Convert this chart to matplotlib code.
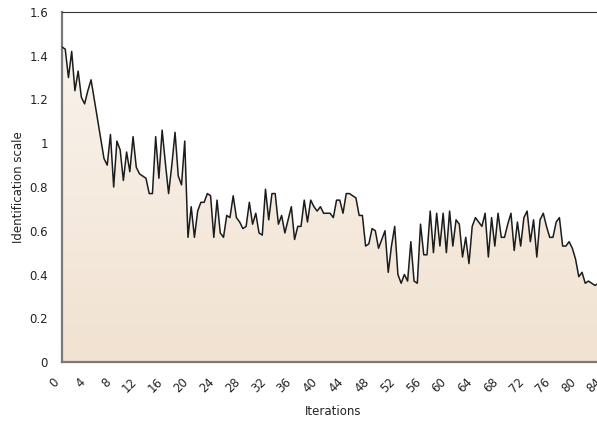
import numpy as np
import matplotlib
matplotlib.use('Agg')
import matplotlib.pyplot as plt
import matplotlib.transforms as mtransforms
from matplotlib.colors import LinearSegmentedColormap

# valores (passo de 0.5 iteracao)
scale_vals = [
    1.44, 1.43, 1.30, 1.42, 1.24, 1.33, 1.21, 1.18, 1.24, 1.29,
    1.20, 1.11, 1.02, 0.93, 0.90, 1.04, 0.80, 1.01, 0.97, 0.83,
    0.96, 0.87, 1.03, 0.89, 0.86, 0.85, 0.84, 0.77, 0.77, 1.03,
    0.84, 1.06, 0.91, 0.77, 0.90, 1.05, 0.85, 0.81, 1.01, 0.57,
    0.71, 0.57, 0.69, 0.73, 0.73, 0.77, 0.76, 0.57, 0.74, 0.59,
    0.57, 0.67, 0.66, 0.76, 0.66, 0.64, 0.61, 0.62, 0.73, 0.63,
    0.68, 0.59, 0.58, 0.79, 0.65, 0.77, 0.77, 0.63, 0.67, 0.59,
    0.65, 0.71, 0.56, 0.62, 0.62, 0.74, 0.64, 0.74, 0.71, 0.69,
    0.71, 0.68, 0.68, 0.68, 0.66, 0.74, 0.74, 0.68, 0.77, 0.77,
    0.76, 0.75, 0.67, 0.67, 0.53, 0.54, 0.61, 0.60, 0.52, 0.56,
    0.60, 0.41, 0.53, 0.62, 0.40, 0.36, 0.40, 0.37, 0.55, 0.37,
    0.36, 0.63, 0.49, 0.49, 0.69, 0.50, 0.68, 0.53, 0.68, 0.50,
    0.69, 0.53, 0.65, 0.63, 0.48, 0.57, 0.45, 0.62, 0.66, 0.64,
    0.62, 0.68, 0.48, 0.66, 0.53, 0.68, 0.57, 0.57, 0.63, 0.68,
    0.51, 0.64, 0.53, 0.66, 0.69, 0.55, 0.65, 0.48, 0.65, 0.68,
    0.62, 0.57, 0.57, 0.64, 0.66, 0.53, 0.53, 0.55, 0.52, 0.47,
    0.39, 0.41, 0.36, 0.37, 0.36, 0.35, 0.36,
]
iterations = np.arange(len(scale_vals)) * 0.5
x_ticks = list(range(0, 85, 4))
y_ticks = [0, 0.2, 0.4, 0.6, 0.8, 1, 1.2, 1.4, 1.6]

W, H = 597, 422
fig = plt.figure(figsize=(W / 100, H / 100), dpi=100)
# eixo vai alem da borda direita (imagem recortada)
left, bottom, top = 62, 362, 12
px_per_unit = 6.46
ax = fig.add_axes([left / W, (H - bottom) / H, 84 * px_per_unit / W, (bottom - top) / H])

ax.set_xlim(0, 84)
ax.set_ylim(0, 1.6)

# preenchimento com degrade
cmap = LinearSegmentedColormap.from_list('bege', ['#f1e2d1', '#faf5ef'])
grad = np.linspace(0, 1, 256).reshape(-1, 1)
img = ax.imshow(grad, extent=[0, 84, 0, 1.6], origin='lower', aspect='auto',
                cmap=cmap, zorder=1)
poly = ax.fill_between(iterations, 0, scale_vals, color='none', zorder=1)
img.set_clip_path(poly.get_paths()[0], transform=ax.transData)

ax.plot(iterations, scale_vals, color='#1c1c1c', lw=1.1, zorder=3)

ax.set_xticks(x_ticks)
ax.set_xticklabels([str(v) for v in x_ticks], rotation=45, ha='right',
                   va='center', rotation_mode='anchor', fontsize=8.5, color='#222222')
ax.set_yticks(y_ticks)
ax.set_yticklabels(['%g' % v for v in y_ticks], fontsize=8.5, color='#222222')
ax.tick_params(axis='both', length=0)
ax.tick_params(axis='x', pad=13)
ax.tick_params(axis='y', pad=10)

# desloca os rotulos do eixo x um pouco para a esquerda
offset = mtransforms.ScaledTranslation(-5 / 100, 0, fig.dpi_scale_trans)
for lbl in ax.get_xticklabels():
    lbl.set_transform(lbl.get_transform() + offset)

ax.set_xlabel('Iterations', fontsize=8.5, color='#222222', labelpad=7)
ax.set_ylabel('Identification scale', fontsize=8.5, color='#222222', labelpad=3)

for s in ['left', 'bottom']:
    ax.spines[s].set_color('#7a7a7a')
    ax.spines[s].set_linewidth(1.6)
ax.spines['top'].set_color('#333333')
ax.spines['top'].set_linewidth(0.8)
ax.spines['right'].set_visible(False)

plt.savefig('out.png', dpi=100)
plt.close()
